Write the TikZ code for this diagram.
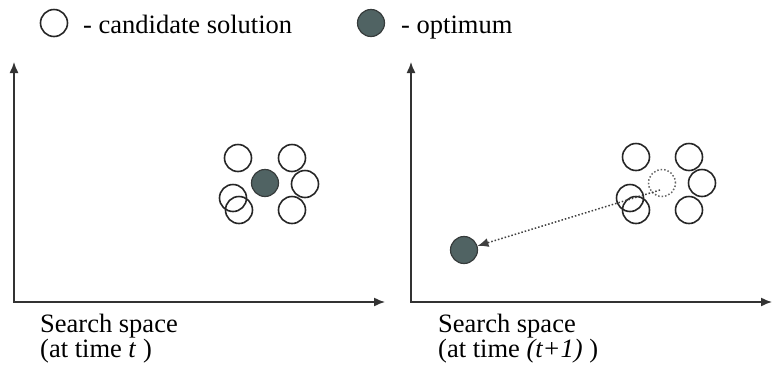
\documentclass[tikz,border=0pt]{standalone}
\usepackage{fontspec}
\setmainfont{Liberation Serif}
\usetikzlibrary{arrows.meta}
\definecolor{optfill}{RGB}{80,99,99}
\definecolor{optline}{RGB}{55,60,60}
\begin{document}
\begin{tikzpicture}[x=1pt,y=-1pt,
  cand/.style={circle,draw=black!85,line width=1.6pt,minimum size=27pt,inner sep=0pt},
  opt/.style={circle,draw=optline,line width=1.2pt,fill=optfill,minimum size=27pt,inner sep=0pt},
  ghost/.style={circle,draw=black!60,dotted,line width=1.5pt,minimum size=27pt,inner sep=0pt},
  tip/.style={-{Latex[length=11pt,width=9pt]}},
  axis/.style={line width=1.4pt,draw=black!80},
  lbl/.style={font=\fontsize{26.5}{24}\selectfont,inner sep=0pt}]
\useasboundingbox (0,0) rectangle (772,365);
% legend
\node[cand] (lc) at (54,23) {};
\node[lbl,anchor=base west] (lct) at (83,33) {- candidate solution};
\node[opt] (lo) at (371,23) {};
\node[lbl,anchor=base west] (lot) at (401,33) {- optimum};
% left axes
\coordinate (ly) at (14,62);
\coordinate (lo0) at (14,302);
\coordinate (lx) at (385,302);
\draw[axis,{Latex[length=11pt,width=9pt]}-{Latex[length=11pt,width=9pt]}] (ly) -- (lo0) -- (lx);
% right axes
\coordinate (ry) at (411,62);
\coordinate (ro0) at (411,302);
\coordinate (rx) at (772,302);
\draw[axis,{Latex[length=11pt,width=9pt]}-{Latex[length=11pt,width=9pt]}] (ry) -- (ro0) -- (rx);
% left cluster
\node[cand] (a1) at (238,158) {};
\node[cand] (a2) at (292,158) {};
\node[cand] (a3) at (305,184) {};
\node[cand] (a4) at (292,210) {};
\node[cand] (a5) at (233,198) {};
\node[cand] (a6) at (239,210) {};
\node[opt] (ao) at (265,183) {};
% right cluster
\node[cand] (b1) at (636,157) {};
\node[cand] (b2) at (689,157) {};
\node[cand] (b3) at (702,183) {};
\node[cand] (b4) at (689,210) {};
\node[cand] (b5) at (630,198) {};
\node[cand] (b6) at (636,210) {};
\node[ghost] (bg) at (662,183) {};
\node[opt] (bo) at (464,250) {};
\coordinate (bgc) at (660,190);
\draw[dotted,line width=1.5pt,draw=black!75,tip] (bgc) -- (bo);
% captions
\node[lbl,anchor=base west] (cl1) at (40,332) {Search space};
\node[lbl,anchor=base west] (cl2) at (40,357) {(at time \textit{t} )};
\node[lbl,anchor=base west] (cr1) at (438,332) {Search space};
\node[lbl,anchor=base west] (cr2) at (438,357) {(at time \textit{(t+1)} )};
\end{tikzpicture}
\end{document}
